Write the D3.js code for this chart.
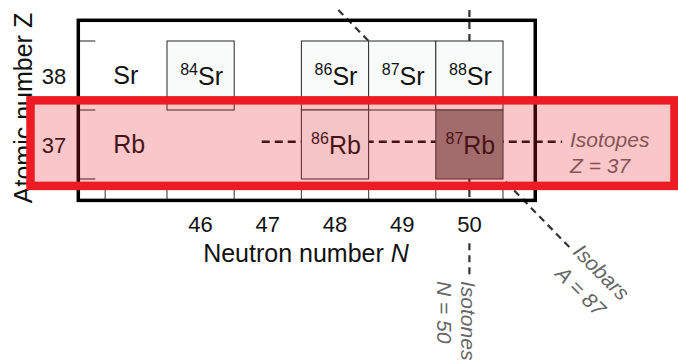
<!DOCTYPE html>
<html>
<head>
<meta charset="utf-8">
<script src="https://cdn.jsdelivr.net/npm/d3@7"></script>
<style>
  html, body { margin: 0; padding: 0; background: #fff; }
  svg { display: block; font-family: "Liberation Sans", Arial, Helvetica, sans-serif; }
</style>
</head>
<body>
<svg id="chart" width="678" height="362"></svg>
<script>
// ---------- data ----------
const zTicks = [38, 37];                       // atomic number labels
const nTicks = [46, 47, 48, 49, 50];           // neutron number labels
const zBoundaries = [38.5, 37.5, 36.5];        // left tick marks (row edges)
const nBoundaries = [44.58, 45.5, 46.5, 47.5, 48.5, 49.5, 50.5]; // bottom tick marks
const elementSymbols = ["Sr", "Rb"];
const elementZ = [38, 37];
const isoMass   = [84, 86, 87, 88, 86, 87];
const isoSymbol = ["Sr", "Sr", "Sr", "Sr", "Rb", "Rb"];
const isoN      = [46, 48, 49, 50, 48, 50];
const isoZ      = [38, 38, 38, 38, 37, 37];
const isoShaded = [false, false, false, false, false, true];
// reference lines
const isotopeZ = 37.04;            // horizontal dashed line (Z = 37)
const isotopeN = [46.91, 51.38];
const isotoneN = 50;               // vertical dashed line (N = 50)
const isotoneSegmentsZ = [[38.95, 36.2], [35.57, 35.08]];
const isobarA = 87;                // diagonal dashed line (N + Z = 87)
const isobarN = [48.05, 51.5];

// ---------- scales ----------
const svg = d3.select("#chart");
const x = d3.scaleLinear().domain([45.5, 50.5]).range([167, 503]);
const y = d3.scaleLinear().domain([38.5, 36.5]).range([41, 179]);
const frameN = [44.18, 50.98], frameZ = [38.8, 36.19];
const ANNOT = "#666";

// ---------- dashed reference lines (underneath) ----------
const lines = svg.append("g").attr("fill", "none");
lines.append("line")
  .attr("x1", x(isobarN[0])).attr("y1", y(isobarA - isobarN[0]))
  .attr("x2", x(isobarN[1])).attr("y2", y(isobarA - isobarN[1]))
  .attr("stroke", "#333").attr("stroke-width", 2.2).attr("stroke-dasharray", "7,5");
isotoneSegmentsZ.forEach(seg => {
  lines.append("line")
    .attr("x1", x(isotoneN)).attr("y1", y(seg[0]))
    .attr("x2", x(isotoneN)).attr("y2", y(seg[1]))
    .attr("stroke", "#333").attr("stroke-width", 2.2).attr("stroke-dasharray", "7,5");
});
lines.append("line")
  .attr("x1", x(isotopeN[0])).attr("y1", y(isotopeZ))
  .attr("x2", x(isotopeN[1])).attr("y2", y(isotopeZ))
  .attr("stroke", "#111").attr("stroke-width", 2.4).attr("stroke-dasharray", "8,5");

// ---------- isotope boxes ----------
const iso = isoMass.map((a, i) => ({ a, s: isoSymbol[i], n: isoN[i], z: isoZ[i], shaded: isoShaded[i] }));
const boxes = svg.append("g");
boxes.selectAll("rect").data(iso).join("rect")
  .attr("x", d => x(d.n - 0.5)).attr("y", d => y(d.z + 0.5))
  .attr("width", d => x(d.n + 0.5) - x(d.n - 0.5))
  .attr("height", d => y(d.z - 0.5) - y(d.z + 0.5))
  .attr("fill", d => d.shaded ? "#8c8683" : "#f9fbfb")
  .attr("stroke", "#3a3a3a").attr("stroke-width", 1.1);
const lab = boxes.selectAll("text").data(iso).join("text")
  .attr("x", d => x(d.n) + 1).attr("y", d => y(d.z) + 9)
  .attr("text-anchor", "middle").attr("fill", "#111");
lab.append("tspan").attr("font-size", 16).attr("dy", -10).text(d => d.a);
lab.append("tspan").attr("font-size", 25).attr("dy", 10).text(d => d.s);

// element labels
svg.append("g").selectAll("text").data(elementSymbols).join("text")
  .attr("x", x(44.18) + 35).attr("y", (d, i) => y(elementZ[i]) + 8)
  .attr("font-size", 25).attr("fill", "#111").text(d => d);

// ---------- frame and ticks ----------
const fx0 = x(frameN[0]), fx1 = x(frameN[1]), fy0 = y(frameZ[0]), fy1 = y(frameZ[1]);
svg.append("g").selectAll("line").data(zBoundaries).join("line")
  .attr("x1", fx0).attr("x2", fx0 + 17).attr("y1", d => y(d)).attr("y2", d => y(d))
  .attr("stroke", "#444").attr("stroke-width", 1.2);
svg.append("g").selectAll("line").data(nBoundaries).join("line")
  .attr("x1", d => x(d)).attr("x2", d => x(d)).attr("y1", fy1 - 18).attr("y2", fy1)
  .attr("stroke", "#555").attr("stroke-width", 1.2);
svg.append("rect")
  .attr("x", fx0).attr("y", fy0).attr("width", fx1 - fx0).attr("height", fy1 - fy0)
  .attr("fill", "none").attr("stroke", "#000").attr("stroke-width", 3.5);

// tick labels
svg.append("g").selectAll("text").data(zTicks).join("text")
  .attr("x", 54).attr("y", d => y(d) + 8.5).attr("text-anchor", "middle")
  .attr("font-size", 22).attr("fill", "#111").text(d => d);
svg.append("g").selectAll("text").data(nTicks).join("text")
  .attr("x", d => x(d)).attr("y", 232).attr("text-anchor", "middle")
  .attr("font-size", 22).attr("fill", "#111").text(d => d);

// axis titles
svg.append("text").attr("transform", "translate(32,108) rotate(-90)")
  .attr("text-anchor", "middle").attr("font-size", 25).attr("fill", "#111")
  .text("Atomic number Z");
const xt = svg.append("text").attr("x", 306).attr("y", 262)
  .attr("text-anchor", "middle").attr("font-size", 25).attr("fill", "#111");
xt.append("tspan").text("Neutron number ");
xt.append("tspan").attr("font-style", "italic").text("N");

// ---------- annotations ----------
const isoT = svg.append("text").attr("font-size", 21).attr("font-style", "italic").attr("fill", ANNOT);
isoT.append("tspan").attr("x", 570).attr("y", 147).text("Isotopes");
isoT.append("tspan").attr("x", 570).attr("y", 173).text("Z = 37");

const isoN_T = svg.append("text").attr("transform", `translate(${x(isotoneN) - 8},281) rotate(90)`)
  .attr("font-size", 21).attr("font-style", "italic").attr("fill", ANNOT);
isoN_T.append("tspan").attr("x", 0).attr("y", 0).text("Isotones");
isoN_T.append("tspan").attr("x", 0).attr("y", 24).text("N = 50");

const isoB = svg.append("text").attr("transform", "translate(572,253) rotate(45)")
  .attr("font-size", 21).attr("font-style", "italic").attr("fill", ANNOT);
isoB.append("tspan").attr("x", 0).attr("y", 0).text("Isobars");
isoB.append("tspan").attr("x", 3).attr("y", 28).text("A = 87");

// ---------- red highlight of Z = 37 row (on top) ----------
svg.append("rect")
  .attr("x", 30.5).attr("y", y(37.64))
  .attr("width", 644).attr("height", y(36.4) - y(37.64))
  .attr("fill", "rgba(231,31,39,0.25)")
  .attr("stroke", "#ed1c24").attr("stroke-width", 8.5);
</script>
</body>
</html>
